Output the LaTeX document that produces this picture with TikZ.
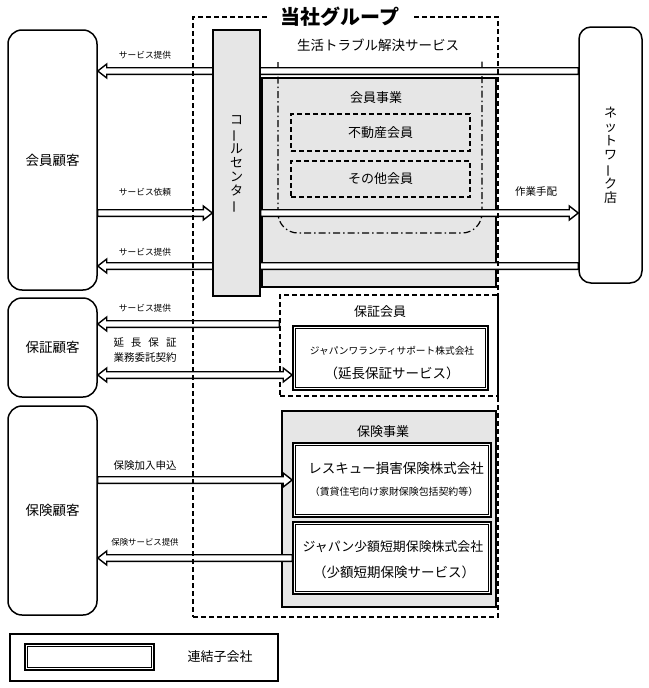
\documentclass[tikz,border=0pt]{standalone}
\usepackage{fontspec}
\setmainfont{Noto Sans CJK JP}
\usepackage{graphicx}
\usetikzlibrary{calc}
\newcommand\myfs[1]{\fontsize{#1}{#1}\selectfont}
\newcommand\vlong{\smash{\rotatebox[origin=c]{90}{ー}}}
\definecolor{boxgray}{RGB}{230,230,230}
\pgfdeclarelayer{back}
\pgfdeclarelayer{arr}
\pgfsetlayers{back,arr,main}
\begin{document}
\begin{tikzpicture}[x=1pt,y=-1pt,
  grp/.style={draw, line width=1.3pt, dash pattern=on 5pt off 3pt, inner sep=0pt},
  cust/.style={draw, line width=1.5pt, rounded corners=14pt, inner sep=0pt},
  gbox/.style={draw, line width=1.4pt, fill=boxgray, inner sep=0pt},
  dbox/.style={draw, line width=1.4pt, dash pattern=on 5pt off 3pt, inner sep=0pt},
  dashdotline/.style={draw, line width=1.2pt, dash pattern=on 7pt off 3pt on 1.5pt off 3pt, rounded corners=20pt},
  subco/.style={draw, line width=1.6pt, fill=white, inner sep=0pt,
    path picture={\draw[line width=0.8pt]
      ([shift={(2.6pt,-2.6pt)}]path picture bounding box.north west) rectangle
      ([shift={(-2.6pt,2.6pt)}]path picture bounding box.south east);}},
  lbl/.style={inner sep=0pt, font=\myfs{8.7}},
  harr/.style={draw, fill=white, line width=1.4pt,
    to path={let \p1=(\tikztostart), \p2=(\tikztotarget),
      \p3=($(\tikztotarget)!9pt!(\tikztostart)$) in
      (\x1,\y1+3.3pt) -- (\x3,\y1+3.3pt) -- (\x3,\y1+7pt) -- (\x2,\y1)
      -- (\x3,\y1-7pt) -- (\x3,\y1-3.3pt) -- (\x1,\y1-3.3pt) -- cycle}},
  harrboth/.style={draw, fill=white, line width=1.4pt,
    to path={let \p1=(\tikztostart), \p2=(\tikztotarget),
      \p3=($(\tikztotarget)!9pt!(\tikztostart)$),
      \p4=($(\tikztostart)!9pt!(\tikztotarget)$) in
      (\x4,\y1+3.3pt) -- (\x3,\y1+3.3pt) -- (\x3,\y1+7pt) -- (\x2,\y1)
      -- (\x3,\y1-7pt) -- (\x3,\y1-3.3pt) -- (\x4,\y1-3.3pt) -- (\x4,\y1-7pt)
      -- (\x1,\y1) -- (\x4,\y1+7pt) -- cycle}}
]
\useasboundingbox (0,0) rectangle (648,688);

\begin{pgfonlayer}{back}
  \node[gbox, minimum width=234pt, minimum height=209pt] (kjigyo) at (379,182.5) {};
  \node[dbox, minimum width=179pt, minimum height=37pt, font=\myfs{13}] (fudosan) at (380.5,132.5) {不動産会員};
  \node[dbox, minimum width=179pt, minimum height=36pt, font=\myfs{13}] (sonota) at (380.5,179) {その他会員};
  \path[dashdotline] (278,62) -- (278,233) -- (482,233) -- (482,60);
  \node[dbox, minimum width=218pt, minimum height=101pt] (hoshokai) at (389,345.5) {};
  \node[gbox, minimum width=214pt, minimum height=196pt] (hjigyo) at (389,509) {};
\end{pgfonlayer}

% group frame and title
\node[grp, minimum width=305pt, minimum height=600pt] (group) at (345.5,317) {};
\node[fill=white, inner xsep=14pt, inner ysep=1pt, font=\myfs{20}\bfseries] (title) at (340,17) {当社グループ};
\node[inner sep=0pt, font=\myfs{13.5}] (seikatsu) at (378,45) {生活トラブル解決サービス};
\node[inner sep=0pt, font=\myfs{13}] (kjlabel) at (376,98) {会員事業};
\node[inner sep=0pt, font=\myfs{13}] (hklabel) at (380,312) {保証会員};
\node[inner sep=0pt, font=\myfs{13}] (hjlabel) at (383,432) {保険事業};

% customers
\node[cust, minimum width=89pt, minimum height=260pt, font=\myfs{13.5}] (kaiin) at (52.5,160) {会員顧客};
\node[cust, minimum width=89pt, minimum height=99pt, font=\myfs{13.5}] (hosho) at (52.5,347.5) {保証顧客};
\node[cust, minimum width=89pt, minimum height=209pt, font=\myfs{13.5}] (hoken) at (52.5,510.5) {保険顧客};

% network store
\node[cust, rounded corners=12pt, minimum width=63pt, minimum height=256pt, align=center,
  font=\fontsize{13}{14.2}\selectfont] (net) at (610.5,155) {ネ\\ッ\\ト\\ワ\\\vlong\\ク\\店};

% call center
\node[draw, fill=boxgray, line width=1.4pt, inner sep=0pt, minimum width=47pt, minimum height=266pt,
  align=center, font=\fontsize{13}{14.2}\selectfont] (cc) at (236.5,163) {コ\\\vlong\\ル\\セ\\ン\\タ\\\vlong};

% subsidiaries
\node[subco, minimum width=195pt, minimum height=64pt] (jws) at (390.5,358) {};
\node[inner sep=0pt, font=\myfs{9.7}] (jwst1) at (392,351) {ジャパンワランティサポート株式会社};
\node[inner sep=0pt, font=\myfs{13.5}] (jwst2) at (392,373) {（延長保証サービス）};

\node[subco, minimum width=198pt, minimum height=74pt] (rescue) at (392,480) {};
\node[inner sep=0pt, font=\myfs{13.5}] (rest1) at (396,468) {レスキュー損害保険株式会社};
\node[inner sep=0pt, font=\myfs{9.9}] (rest2) at (394,492) {（賃貸住宅向け家財保険包括契約等）};

\node[subco, minimum width=198pt, minimum height=72pt] (jss) at (392,558) {};
\node[inner sep=0pt, font=\myfs{12.9}] (jsst1) at (393,547) {ジャパン少額短期保険株式会社};
\node[inner sep=0pt, font=\myfs{13.5}] (jsst2) at (394,572) {（少額短期保険サービス）};

% arrow labels
\node[lbl] (l1) at (145,55) {サービス提供};
\node[lbl] (l2) at (145,192) {サービス依頼};
\node[lbl] (l3) at (145,252) {サービス提供};
\node[lbl, font=\myfs{10.5}] (l4) at (536,192) {作業手配};
\node[lbl] (l5) at (145,308) {サービス提供};
\node[lbl, font=\myfs{10.5}] (l6a) at (145,343) {\makebox[63pt]{延\hfill 長\hfill 保\hfill 証}};
\node[lbl, font=\myfs{10.5}] (l6b) at (145,358) {業務委託契約};
\node[lbl, font=\myfs{10.5}] (l7) at (145,466) {保険加入申込};
\node[lbl, font=\myfs{8.4}] (l8) at (145,542) {保険サービス提供};

% legend
\node[draw, line width=1.4pt, inner sep=0pt, minimum width=268pt, minimum height=47pt] (legend) at (144,657.5) {};
\node[subco, minimum width=129pt, minimum height=26pt] (legbox) at (89.5,657) {};
\node[inner sep=0pt, font=\myfs{13}] (legtext) at (220,657) {連結子会社};

% arrows
\begin{pgfonlayer}{arr}
  \path[harr] (net.west |- 0,71) to (kaiin.east |- 0,71);
  \path[harr] (kaiin.east |- 0,213) to (cc.west |- 0,213);
  \path[harr] (cc.east |- 0,213) to (net.west |- 0,213);
  \path[harr] (net.west |- 0,266) to (kaiin.east |- 0,266);
  \path[harr] (hoshokai.west |- 0,324) to (hosho.east |- 0,324);
  \path[harrboth] (hosho.east |- 0,375) to (jws.west |- 0,375);
  \path[harr] (hoken.east |- 0,480) to (rescue.west |- 0,480);
  \path[harr] (jss.west |- 0,558) to (hoken.east |- 0,558);
\end{pgfonlayer}
\end{tikzpicture}
\end{document}
